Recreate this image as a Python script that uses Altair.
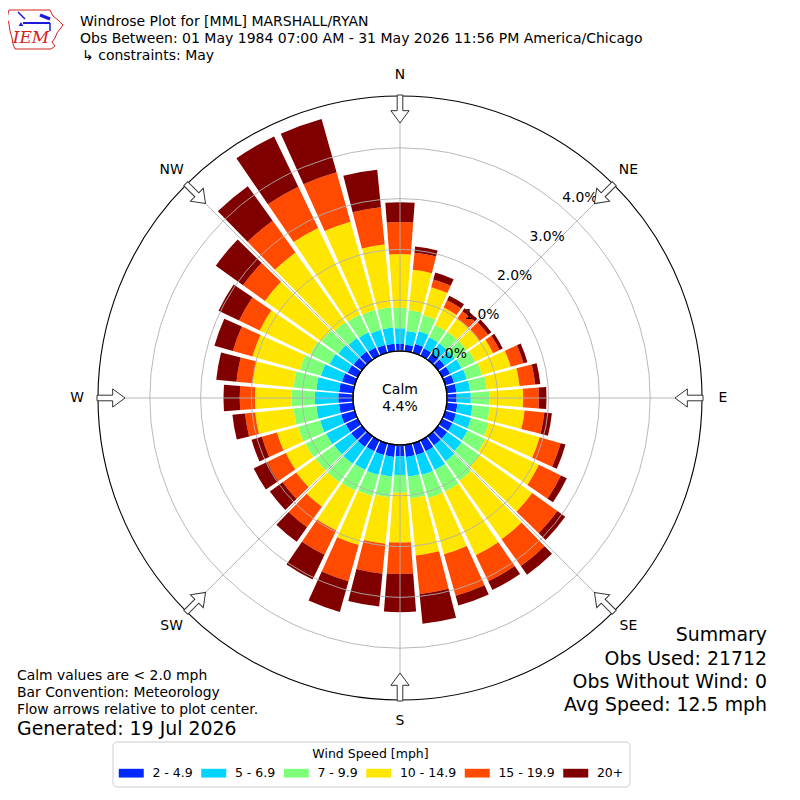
import math
import numpy as np
import pandas as pd
import altair as alt

FONT = "DejaVu Sans"

# ---------------- data ----------------
directions = list(range(0, 360, 10))
speed_bins = ["2 - 4.9", "5 - 6.9", "7 - 9.9", "10 - 14.9", "15 - 19.9", "20+"]
bin_colors = ["#0028ff", "#00d4ff", "#7dff7a", "#ffe600", "#ff4a00", "#800000"]

pct_2_5 = [0.14, 0.13, 0.18, 0.16, 0.16, 0.16, 0.17, 0.18, 0.19, 0.19,
           0.21, 0.22, 0.22, 0.22, 0.22, 0.24, 0.24, 0.24, 0.22,
           0.24, 0.24, 0.24, 0.26, 0.26, 0.26, 0.28, 0.28, 0.29,
           0.28, 0.26, 0.22, 0.20, 0.20, 0.18, 0.16, 0.15]
pct_5_7 = [0.31, 0.27, 0.26, 0.24, 0.24, 0.24, 0.25, 0.26, 0.27, 0.28,
           0.30, 0.31, 0.33, 0.35, 0.39, 0.41, 0.41, 0.39, 0.37,
           0.39, 0.41, 0.41, 0.41, 0.41, 0.43, 0.43, 0.45, 0.46,
           0.45, 0.43, 0.39, 0.37, 0.33, 0.33, 0.31, 0.32]
pct_7_10 = [0.40, 0.41, 0.33, 0.27, 0.28, 0.29, 0.30, 0.31, 0.33, 0.37,
            0.34, 0.36, 0.39, 0.43, 0.47, 0.47, 0.47, 0.43, 0.35,
            0.41, 0.43, 0.45, 0.45, 0.45, 0.45, 0.45, 0.45, 0.46,
            0.45, 0.43, 0.43, 0.41, 0.39, 0.39, 0.41, 0.40]
pct_10_15 = [1.06, 0.80, 0.57, 0.38, 0.33, 0.32, 0.39, 0.59, 0.65, 0.66,
             0.69, 1.04, 1.17, 1.28, 1.42, 1.39, 1.15, 1.13, 0.98,
             0.92, 1.00, 0.87, 0.59, 0.47, 0.43, 0.43, 0.76, 0.72,
             0.81, 0.97, 1.10, 1.37, 1.68, 1.89, 1.80, 1.24]
pct_15_20 = [0.63, 0.34, 0.16, 0.16, 0.17, 0.20, 0.14, 0.26, 0.31, 0.31,
             0.39, 0.43, 0.48, 0.61, 0.65, 0.57, 0.85, 0.76, 0.62,
             0.59, 0.74, 0.53, 0.50, 0.33, 0.41, 0.31, 0.20, 0.30,
             0.32, 0.40, 0.45, 0.53, 0.77, 0.90, 1.01, 0.74]
pct_20p = [0.39, 0.12, 0.14, 0.10, 0.07, 0.08, 0.07, 0.08, 0.10, 0.15,
           0.15, 0.10, 0.13, 0.19, 0.21, 0.19, 0.20, 0.59, 0.75,
           0.65, 0.63, 0.54, 0.35, 0.31, 0.29, 0.21, 0.25, 0.32,
           0.40, 0.38, 0.45, 0.66, 0.84, 1.10, 1.09, 0.74]

calm_pct = 4.4
ring_pcts = [1, 2, 3, 4]
tick_pcts = [0, 1, 2, 3, 4]
compass_angles = [0, 45, 90, 135, 180, 225, 270, 315]
compass_names = ["N", "NE", "E", "SE", "S", "SW", "W", "NW"]

title_lines = ["Windrose Plot for [MML] MARSHALL/RYAN",
               "Obs Between: 01 May 1984 07:00 AM - 31 May 2026 11:56 PM America/Chicago",
               "\u21b3 constraints: May"]
note_lines = ["Calm values are < 2.0 mph", "Bar Convention: Meteorology",
              "Flow arrows relative to plot center."]
generated = "Generated: 19 Jul 2026"
summary_lines = ["Summary", "Obs Used: 21712", "Obs Without Wind: 0", "Avg Speed: 12.5 mph"]

# ---------------- geometry ----------------
X0, Y0 = 392, 390          # rose centre (chart space)
R_CALM = 47                # px radius of the 0 % ring
PX_PER_PCT = 50.8
RMAX = 5.02                # outer frame in %
R_OUT = R_CALM + RMAX * PX_PER_PCT
HALF_W = 4.3               # half angular width of a bar (deg)

series = [pct_2_5, pct_5_7, pct_7_10, pct_10_15, pct_15_20, pct_20p]
rows = []
for i, d in enumerate(directions):
    cum = 0.0
    for k, name in enumerate(speed_bins):
        v = series[k][i]
        rows.append(dict(dir=d, bin=name, t0=d - HALF_W, t1=d + HALF_W, p0=cum, p1=cum + v))
        cum += v
bars_df = pd.DataFrame(rows)

TH = alt.Scale(domain=[0, 360], range=[0, 2 * math.pi])
RS = alt.Scale(type="linear", domain=[0, RMAX], range=[R_CALM, R_OUT], nice=False, zero=False)
cx = alt.value(X0)
cy = alt.value(Y0)
one = pd.DataFrame({"a": [0]})

bars = alt.Chart(bars_df).mark_arc().encode(
    theta=alt.Theta("t0:Q", scale=TH, stack=False),
    theta2="t1:Q",
    radius=alt.Radius("p1:Q", scale=RS, stack=False),
    radius2="p0:Q",
    color=alt.Color(
        "bin:N",
        scale=alt.Scale(domain=speed_bins, range=bin_colors),
        legend=alt.Legend(
            title="Wind Speed [mph]", orient="none", legendX=104.5, legendY=733.5,
            direction="horizontal", titleAnchor="middle", titleFont=FONT,
            titleFontSize=12.5, titleFontWeight="normal", titleColor="#000000",
            titlePadding=6.8, labelFont=FONT, labelFontSize=12.5, labelColor="#000000",
            symbolType="M-1,-0.729H3.167V0.729H-1Z", symbolSize=144, symbolStrokeWidth=0,
            symbolOpacity=1, labelOffset=21.4, columnPadding=7.5, padding=6,
            strokeColor="#cccccc", cornerRadius=4, fillColor="#ffffff",
        ),
    ),
    x=cx, y=cy,
)

rings = alt.Chart(pd.DataFrame({"pct": ring_pcts})).mark_arc(
    filled=False, stroke="#b0b0b0", strokeWidth=0.9, theta=0, theta2=2 * math.pi
).encode(radius=alt.Radius("pct:Q", scale=RS, stack=False), x=cx, y=cy)

sp = pd.DataFrame({"a": compass_angles})
rad = np.radians(sp["a"])
sp["x"] = X0 + R_CALM * np.sin(rad)
sp["y"] = Y0 - R_CALM * np.cos(rad)
sp["x2"] = X0 + R_OUT * np.sin(rad)
sp["y2"] = Y0 - R_OUT * np.cos(rad)
spokes = alt.Chart(sp).mark_rule(color="#b0b0b0", strokeWidth=0.9).encode(
    x=alt.X("x:Q", scale=None, axis=None), y=alt.Y("y:Q", scale=None, axis=None),
    x2="x2:Q", y2="y2:Q")

frame = alt.Chart(pd.DataFrame({"pct": [RMAX]})).mark_arc(
    filled=False, stroke="#000000", strokeWidth=1.1, theta=0, theta2=2 * math.pi
).encode(radius=alt.Radius("pct:Q", scale=RS, stack=False), x=cx, y=cy)

calm = alt.Chart(pd.DataFrame({"pct": [0]})).mark_arc(
    fill="#ffffff", stroke="#000000", strokeWidth=1.2, theta=0, theta2=2 * math.pi
).encode(radius=alt.Radius("pct:Q", scale=RS, stack=False), x=cx, y=cy)

calm_txt = alt.Chart(pd.DataFrame({"t": ["Calm", f"{calm_pct:.1f}%"], "i": [0, 1]})).mark_text(
    font=FONT, fontSize=14, color="#000000", baseline="middle", align="center"
).encode(x=cx, y=alt.Y("i:Q", scale=alt.Scale(domain=[0, 1], range=[Y0 - 8, Y0 + 9]), axis=None),
         text="t:N")

ticks = pd.DataFrame({"pct": tick_pcts, "a": [40] * len(tick_pcts)})
ticks["lab"] = [f"{p:.1f}%" for p in tick_pcts]
tick_txt = alt.Chart(ticks).mark_text(
    font=FONT, fontSize=13.9, color="#000000", dx=19, dy=-8, align="center", baseline="middle"
).encode(theta=alt.Theta("a:Q", scale=TH, stack=False),
         radius=alt.Radius("pct:Q", scale=RS, stack=False), text="lab:N", x=cx, y=cy)

ar = pd.DataFrame({"a": compass_angles})
ar["x"] = X0 + 289 * np.sin(np.radians(ar["a"]))
ar["y"] = Y0 - 289 * np.cos(np.radians(ar["a"]))
ar["rot"] = (ar["a"] + 180) % 360
arrows = alt.Chart(ar).mark_point(
    shape="M0,-1L0.65,-0.12L0.2,-0.12L0.2,1L-0.2,1L-0.2,-0.12L-0.65,-0.12Z",
    size=784, filled=True, fill="#ffffff", stroke="#333333", strokeWidth=1, opacity=1
).encode(x=alt.X("x:Q", scale=None, axis=None), y=alt.Y("y:Q", scale=None, axis=None),
         angle=alt.Angle("rot:Q", scale=None))

compass = alt.Chart(pd.DataFrame({"a": compass_angles, "n": compass_names})).mark_text(
    font=FONT, fontSize=13.9, color="#000000", radius=323, align="center", baseline="middle"
).encode(theta=alt.Theta("a:Q", scale=TH, stack=False), text="n:N", x=cx, y=cy)


def txt(s, x, y, size, align="left", baseline="middle", **kw):
    return alt.Chart(one).mark_text(font=kw.pop("font", FONT), fontSize=size, align=align,
                                    baseline=baseline, color=kw.pop("color", "#000000"), **kw).encode(
        x=alt.value(x), y=alt.value(y), text=alt.value(s))


texts = [
    txt(title_lines[0], 72, 18.3, 14, baseline="alphabetic"),
    txt(title_lines[1], 72, 35.3, 14, baseline="alphabetic"),
    txt(title_lines[2], 74, 52, 14, baseline="alphabetic"),
    txt(note_lines[0], 9, 668, 13.9),
    txt(note_lines[1], 9, 685.3, 13.9),
    txt(note_lines[2], 9, 701.5, 13.9),
    txt(generated, 9, 720.5, 18.9),
    txt(summary_lines[0], 759, 627, 18.9, align="right"),
    txt(summary_lines[1], 759, 651, 18.9, align="right"),
    txt(summary_lines[2], 759, 674, 18.9, align="right"),
    txt(summary_lines[3], 759, 697, 18.9, align="right"),
]

# ---------------- IEM logo (decoration) ----------------
iowa = [(9, 10), (50, 10), (53, 16), (58, 20), (63, 25), (60, 29), (57, 33), (55, 38),
        (52, 42), (55, 46), (51, 49), (15, 49), (13, 44), (12, 38), (10, 31), (9, 24),
        (7, 18), (9, 10)]
iowa_df = pd.DataFrame({"x": [p[0] - 8 for p in iowa], "y": [p[1] - 8 for p in iowa],
                        "i": list(range(len(iowa)))})
outline = alt.Chart(iowa_df).mark_line(color="#d62020", strokeWidth=1).encode(
    x=alt.X("x:Q", scale=None, axis=None), y=alt.Y("y:Q", scale=None, axis=None), order="i:Q")
segs = pd.DataFrame({"x": [10, 15, 32, 42], "y": [4, 15, 7, 15],
                     "x2": [17, 42, 42, 42], "y2": [11, 15, 11, 23], "w": [1.5, 2, 3.5, 1.5]})
vane = alt.Chart(segs).mark_rule(color="#1a1adc").encode(
    x=alt.X("x:Q", scale=None, axis=None), y=alt.Y("y:Q", scale=None, axis=None),
    x2="x2:Q", y2="y2:Q", strokeWidth=alt.StrokeWidth("w:Q", scale=None))
vane_dot = alt.Chart(one).mark_point(shape="triangle-up", size=22, filled=True, color="#1a1adc",
                                     opacity=1).encode(x=alt.value(13), y=alt.value(16))
iem = txt("IEM", 23, 30, 17, align="center", font="DejaVu Serif", color="#d62020",
          fontStyle="italic")

chart = alt.layer(
    bars, rings, spokes, frame, calm, calm_txt, tick_txt, arrows, compass,
    outline, vane, vane_dot, iem, *texts
).properties(
    width=784, height=784, padding=0, autosize=alt.AutoSizeParams(type="none")
).configure_view(strokeWidth=0)

chart.save("out.html", embed_options={"renderer": "svg", "actions": False})
